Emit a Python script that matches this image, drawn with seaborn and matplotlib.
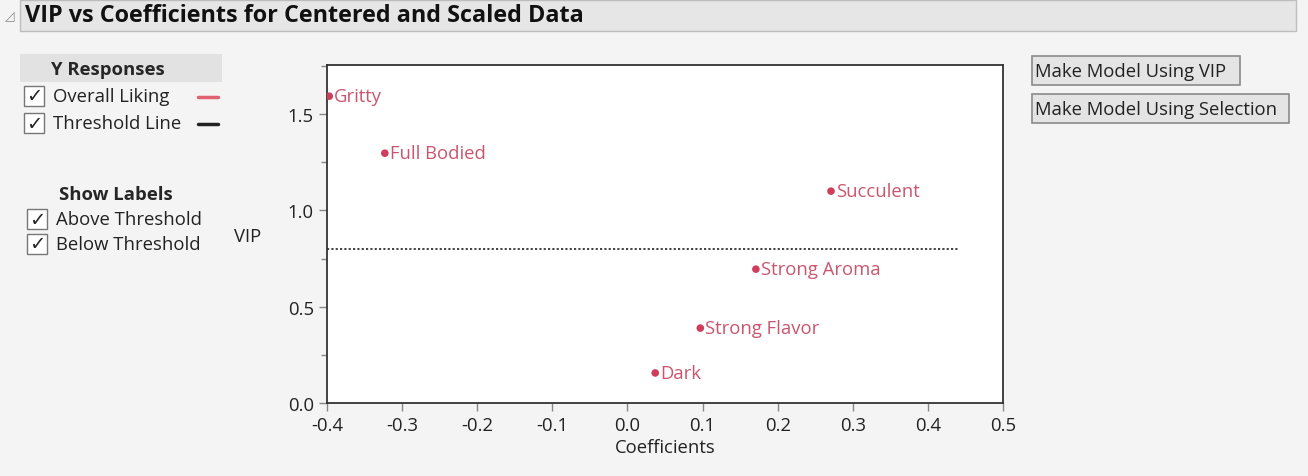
import matplotlib
matplotlib.use("Agg")
import matplotlib.pyplot as plt
from matplotlib.patches import Rectangle
from matplotlib.ticker import MultipleLocator
import pandas as pd
import seaborn as sns

# data
terms = ["Gritty", "Full Bodied", "Succulent", "Strong Aroma", "Strong Flavor", "Dark"]
coefficients = [-0.397, -0.323, 0.271, 0.171, 0.097, 0.037]
vip = [1.593, 1.297, 1.100, 0.695, 0.389, 0.156]
threshold = 0.8
threshold_x = [-0.4, 0.44]

df = pd.DataFrame({"term": terms, "coef": coefficients, "vip": vip})

sns.set_style("white")
plt.rcParams["font.family"] = ["Open Sans", "DejaVu Sans"]

pt_color = "#cf3d5a"
lbl_color = "#c9566e"
bg = "#f4f4f4"
fs = 13.3

fig = plt.figure(figsize=(13.08, 4.77), dpi=100, facecolor=bg)
W, H = 1308, 477

def fx(x):
    return x / W

def fy(y):
    return 1 - y / H

# title bar
fig.patches.append(Rectangle((fx(20), fy(32)), fx(1276), 31 / H, transform=fig.transFigure,
                             facecolor="#e6e6e6", edgecolor="#bdbdbd", lw=1))
fig.text(fx(5), fy(17), "◿", fontsize=9, color="#888888", va="center")
fig.text(fx(25), fy(16), "VIP vs Coefficients for Centered and Scaled Data",
         fontsize=16.8, fontweight="bold", va="center", color="#111111")

# left panel: Y Responses
fig.patches.append(Rectangle((fx(20), fy(83)), fx(202), 28 / H, transform=fig.transFigure,
                             facecolor="#e2e2e2", edgecolor="none"))
fig.text(fx(108), fy(70), "Y Responses", fontsize=fs, fontweight="bold", ha="center", va="center")

def checkbox(x, y, label):
    fig.patches.append(Rectangle((fx(x), fy(y + 10)), fx(20), 20 / H, transform=fig.transFigure,
                                 facecolor="white", edgecolor="#777777", lw=1))
    fig.text(fx(x + 10), fy(y), "✓", fontsize=14, fontweight="bold", ha="center", va="center",
             family=["DejaVu Sans"])
    fig.text(fx(x + 29), fy(y), label, fontsize=fs, va="center", color="#222222")

checkbox(24, 97, "Overall Liking")
checkbox(24, 124, "Threshold Line")
fig.lines.append(plt.Line2D([fx(198), fx(218)], [fy(98), fy(98)], transform=fig.transFigure,
                            color="#e06070", lw=2.5))
fig.lines.append(plt.Line2D([fx(198), fx(218)], [fy(125), fy(125)], transform=fig.transFigure,
                            color="#222222", lw=2.5))

fig.text(fx(116), fy(195), "Show Labels", fontsize=fs, fontweight="bold", ha="center", va="center")
checkbox(27, 220, "Above Threshold")
checkbox(27, 245, "Below Threshold")

# buttons
def button(x, y, w, label):
    fig.patches.append(Rectangle((fx(x), fy(y + 14)), fx(w), 29 / H, transform=fig.transFigure,
                                 facecolor="#e4e4e4", edgecolor="#8a8a8a", lw=1.2))
    fig.text(fx(x + 3), fy(y), label, fontsize=fs, va="center", color="#222222")

button(1032, 72, 208, "Make Model Using VIP")
button(1032, 110, 257, "Make Model Using Selection")

# main plot
ax = fig.add_axes([fx(327), fy(404), fx(676), (404 - 66) / H])
ax.set_facecolor("white")
sns.scatterplot(data=df, x="coef", y="vip", ax=ax, color=pt_color, s=30, edgecolor="none", zorder=3)
for t, x, y in zip(terms, coefficients, vip):
    ax.annotate(t, (x, y), xytext=(3.5, 0), textcoords="offset points", va="center",
                fontsize=fs, color=lbl_color)
ax.plot(threshold_x, [threshold, threshold], ls=(0, (1.2, 1.2)), color="#333333", lw=1.3)

ax.set_xlim(-0.4, 0.5)
ax.set_ylim(0, 1.755)
ax.xaxis.set_major_locator(MultipleLocator(0.1))
ax.yaxis.set_major_locator(MultipleLocator(0.5))
ax.yaxis.set_minor_locator(MultipleLocator(0.25))
ax.set_xticklabels([f"{v:.1f}" for v in ax.get_xticks()])
ax.set_yticklabels([f"{v:.1f}" for v in ax.get_yticks()])
ax.tick_params(axis="both", which="major", direction="out", length=6, width=1, color="#888888",
               labelsize=fs, labelcolor="#222222", bottom=True, left=True)
ax.tick_params(axis="y", which="minor", direction="out", length=4, width=1, color="#888888", left=True)
for s in ax.spines.values():
    s.set_color("#333333")
    s.set_linewidth(1.3)
ax.set_xlabel("Coefficients", fontsize=fs, color="#222222", labelpad=3)
ax.set_ylabel("")
fig.text(fx(248), fy(237), "VIP", fontsize=fs, ha="center", va="center", color="#222222")

fig.savefig("out.png", dpi=100, facecolor=bg)
